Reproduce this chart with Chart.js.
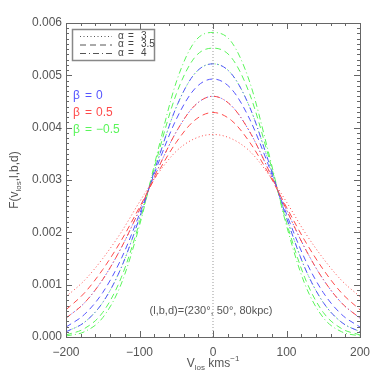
<!DOCTYPE html>
<html lang="en">
<head>
<meta charset="UTF-8">
<title>F(v_los,l,b,d)</title>
<script src="https://cdn.jsdelivr.net/npm/chart.js"></script>
<style>
  body { margin: 0; background: #fff; }
</style>
</head>
<body>
<canvas id="myChart" width="382" height="382"></canvas>
<script>
// line-of-sight velocity grid (km/s)
const vlos = [-200,-175,-150,-125,-100,-75,-50,-25,0,25,50,75,100,125,150,175,200];

// beta = 0.5 (red)
const red_a3  = [0.00077,0.00108,0.00150,0.00200,0.00258,0.00312,0.00355,0.00379,0.00387,0.00379,0.00355,0.00312,0.00258,0.00200,0.00150,0.00108,0.00077];
const red_a35 = [0.00052,0.00084,0.00129,0.00184,0.00248,0.00314,0.00372,0.00414,0.00429,0.00414,0.00372,0.00314,0.00248,0.00184,0.00129,0.00084,0.00052];
const red_a4  = [0.00036,0.00065,0.00110,0.00170,0.00243,0.00321,0.00392,0.00442,0.00460,0.00442,0.00392,0.00321,0.00243,0.00170,0.00110,0.00065,0.00036];
// beta = 0 (blue)
const blue_a3  = [0.00036,0.00065,0.00110,0.00170,0.00243,0.00321,0.00392,0.00442,0.00460,0.00442,0.00392,0.00321,0.00243,0.00170,0.00110,0.00065,0.00036];
const blue_a35 = [0.00019,0.00043,0.00085,0.00149,0.00235,0.00330,0.00416,0.00474,0.00493,0.00474,0.00416,0.00330,0.00235,0.00149,0.00085,0.00043,0.00019];
const blue_a4  = [0.00010,0.00028,0.00066,0.00132,0.00228,0.00338,0.00439,0.00503,0.00522,0.00503,0.00439,0.00338,0.00228,0.00132,0.00066,0.00028,0.00010];
// beta = -0.5 (green)
const green_a3  = [0.00010,0.00028,0.00066,0.00132,0.00228,0.00338,0.00439,0.00503,0.00522,0.00503,0.00439,0.00338,0.00228,0.00132,0.00066,0.00028,0.00010];
const green_a35 = [0.00004,0.00016,0.00047,0.00113,0.00219,0.00348,0.00464,0.00534,0.00552,0.00534,0.00464,0.00348,0.00219,0.00113,0.00047,0.00016,0.00004];
const green_a4  = [0.00002,0.00010,0.00037,0.00101,0.00213,0.00356,0.00487,0.00564,0.00582,0.00564,0.00487,0.00356,0.00213,0.00101,0.00037,0.00010,0.00002];

const alphaValues = ['3', '3.5', '4'];
const betaValues = ['0', '0.5', '\u22120.5'];

const BLUE = 'rgb(85,85,255)';
const RED = 'rgb(255,75,75)';
const GREEN = 'rgb(90,245,90)';
const DOT = [1, 2.5];
const DASH = [6, 4];
const DASHDOT = [6, 3, 1, 3];

function mk(vals, color, dash) {
    return {
        data: vlos.map((v, i) => ({ x: v, y: vals[i] })),
        borderColor: color,
        borderDash: dash,
        borderWidth: 1,
        pointRadius: 0,
        fill: false,
        cubicInterpolationMode: 'monotone'
    };
}

const datasets = [
    { data: [{ x: 0, y: 0 }, { x: 0, y: 0.006 }], borderColor: '#999', borderDash: [1, 2], borderWidth: 1, pointRadius: 0, fill: false },
    mk(red_a3, RED, DOT), mk(red_a35, RED, DASH), mk(red_a4, RED, DASHDOT),
    mk(blue_a3, BLUE, DOT), mk(blue_a35, BLUE, DASH), mk(blue_a4, BLUE, DASHDOT),
    mk(green_a3, GREEN, DOT), mk(green_a35, GREEN, DASH), mk(green_a4, GREEN, DASHDOT)
];

const FONT = '"Liberation Sans", Arial, sans-serif';
const TXT = '#555';

// IDL-like box with inward ticks, titles, legend and labels
const decor = {
    id: 'decor',
    afterDraw(chart) {
        const ctx = chart.ctx;
        const a = chart.chartArea;
        const xs = chart.scales.x, ys = chart.scales.y;
        ctx.save();
        ctx.strokeStyle = '#666';
        ctx.lineWidth = 1;
        ctx.setLineDash([]);
        ctx.strokeRect(Math.round(a.left) + 0.5, Math.round(a.top) + 0.5, Math.round(a.right - a.left), Math.round(a.bottom - a.top));

        ctx.beginPath();
        for (let v = -200; v <= 200; v += 20) {
            const px = Math.round(xs.getPixelForValue(v)) + 0.5;
            const len = (v % 100 === 0) ? 6 : 3;
            ctx.moveTo(px, a.bottom); ctx.lineTo(px, a.bottom - len);
            ctx.moveTo(px, a.top); ctx.lineTo(px, a.top + len);
        }
        for (let i = 0; i <= 60; i++) {
            const py = Math.round(ys.getPixelForValue(i * 0.0001)) + 0.5;
            const len = (i % 10 === 0) ? 6 : 3;
            ctx.moveTo(a.left, py); ctx.lineTo(a.left + len, py);
            ctx.moveTo(a.right, py); ctx.lineTo(a.right - len, py);
        }
        ctx.stroke();

        // x title: V_los kms^-1
        ctx.fillStyle = TXT;
        ctx.textBaseline = 'alphabetic';
        ctx.textAlign = 'left';
        const big = '12px ' + FONT, small = '8px ' + FONT;
        ctx.font = big; const wV = ctx.measureText('V').width; const wK = ctx.measureText(' kms').width;
        ctx.font = small; const wL = ctx.measureText('los').width; const wM = ctx.measureText('\u22121').width;
        let x0 = (a.left + a.right) / 2 - (wV + wL + wK + wM) / 2;
        const by = 367;
        ctx.font = big; ctx.fillText('V', x0, by); x0 += wV;
        ctx.font = small; ctx.fillText('los', x0, by + 3); x0 += wL;
        ctx.font = big; ctx.fillText(' kms', x0, by); x0 += wK;
        ctx.font = small; ctx.fillText('\u22121', x0, by - 6);

        // y title: F(v_los,l,b,d)
        ctx.save();
        ctx.translate(18, (a.top + a.bottom) / 2);
        ctx.rotate(-Math.PI / 2);
        ctx.font = big; const w1 = ctx.measureText('F(v').width; const w3 = ctx.measureText(',l,b,d)').width;
        ctx.font = small; const w2 = ctx.measureText('los').width;
        let t0 = -(w1 + w2 + w3) / 2;
        ctx.font = big; ctx.fillText('F(v', t0, 0); t0 += w1;
        ctx.font = small; ctx.fillText('los', t0, 3); t0 += w2;
        ctx.font = big; ctx.fillText(',l,b,d)', t0, 0);
        ctx.restore();

        // alpha legend box
        ctx.strokeStyle = '#888';
        ctx.lineWidth = 1.5;
        ctx.strokeRect(72.5, 29.5, 82, 31);
        const rows = [36, 44.5, 53];
        const dashes = [DOT, DASH, DASHDOT];
        ctx.lineWidth = 1;
        ctx.strokeStyle = '#555';
        ctx.font = '10px ' + FONT;
        ctx.textBaseline = 'middle';
        rows.forEach((ry, i) => {
            ctx.setLineDash(dashes[i]);
            ctx.beginPath(); ctx.moveTo(80, ry + 0.5); ctx.lineTo(112, ry + 0.5); ctx.stroke();
            ctx.fillStyle = '#444';
            ctx.fillText('\u03b1', 118, ry);
            ctx.fillText('=', 128, ry);
            ctx.fillText(alphaValues[i], 141, ry);
        });
        ctx.setLineDash([]);

        // beta labels
        ctx.font = '12px ' + FONT;
        const bcol = [BLUE, RED, GREEN];
        const by2 = [96, 113, 130];
        betaValues.forEach((t, i) => {
            ctx.fillStyle = bcol[i];
            ctx.fillText('\u03b2', 73, by2[i]);
            ctx.fillText('=', 85, by2[i]);
            ctx.fillText(t, 96, by2[i]);
        });

        // annotation
        ctx.fillStyle = TXT;
        ctx.font = '11px ' + FONT;
        ctx.textAlign = 'center';
        ctx.fillText('(l,b,d)=(230\u00b0, 50\u00b0, 80kpc)', 211, 311);
        ctx.restore();
    }
};

const config = {
    type: 'line',
    data: { datasets: datasets },
    options: {
        responsive: false,
        animation: false,
        layout: { padding: { top: 23, right: 22, left: 0, bottom: 0 } },
        plugins: { legend: { display: false }, tooltip: { enabled: false } },
        scales: {
            x: {
                type: 'linear', min: -200, max: 200,
                grid: { display: false, drawTicks: false },
                border: { display: false },
                ticks: {
                    stepSize: 100, padding: 8, color: TXT, maxRotation: 0,
                    font: { family: FONT, size: 12 },
                    callback: v => String(v).replace('-', '\u2212')
                },
                afterFit(scale) { scale.height = 45; }
            },
            y: {
                type: 'linear', min: 0, max: 0.006,
                grid: { display: false, drawTicks: false },
                border: { display: false },
                ticks: {
                    stepSize: 0.001, padding: 4, color: TXT,
                    font: { family: FONT, size: 12 },
                    callback: v => v.toFixed(3)
                },
                afterFit(scale) { scale.width = 66; }
            }
        }
    },
    plugins: [decor]
};

const myChart = new Chart(document.querySelector('#myChart'), config);
</script>
</body>
</html>
